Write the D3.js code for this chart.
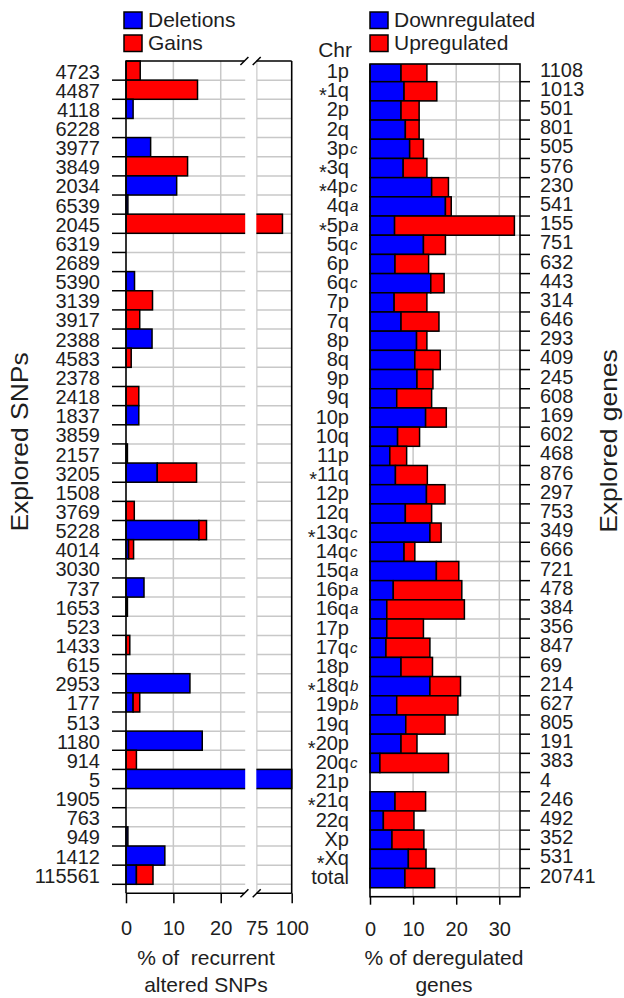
<!DOCTYPE html>
<html lang='en'>
<head>
<meta charset='utf8'>
<title>Explored SNPs and genes</title>
<script src="https://cdn.jsdelivr.net/npm/d3@7/dist/d3.min.js"></script>
<style>
    body { margin: 0; background: #fff; }
    text { font-family: Arial, "Liberation Sans", sans-serif; fill: #1e1e1e; }
</style>
</head>
<body>
<svg id='chart' width='624' height='998'></svg>
<script>
// left panel: SNPs explored per arm, % recurrent altered
var snpCounts = ['4723','4487','4118','6228','3977','3849','2034','6539','2045','6319','2689','5390','3139','3917','2388','4583','2378','2418','1837','3859','2157','3205','1508','3769','5228','4014','3030','737','1653','523','1433','615','2953','177','513','1180','914','5','1905','763','949','1412','115561'];
var deletions = [0,0,1.5,0,5.2,0,10.7,0.4,0,0,0,1.8,0,0,5.5,0,0,0,2.7,0,0.3,6.6,0,0,15.4,0.55,0,3.8,0.3,0,0,0,13.5,1.5,0,16.1,0,100,0,0,0.4,8.2,2.2];
var gains = [3.0,15.1,0,0,0,13.0,0,0,93.4,0,0,0,5.6,2.9,0,1.1,0,2.7,0,0,0,8.3,0,1.75,1.6,1.05,0,0,0,0,0.8,0,0,1.4,0,0,2.2,0,0,0,0,0,3.5];

// right panel: chromosome arms, % deregulated genes
var chrArms = ['1p','1q','2p','2q','3p','3q','4p','4q','5p','5q','6p','6q','7p','7q','8p','8q','9p','9q','10p','10q','11p','11q','12p','12q','13q','14q','15q','16p','16q','17p','17q','18p','18q','19p','19q','20p','20q','21p','21q','22q','Xp','Xq','total'];
var chrStar = ['1q','3q','4p','5p','11q','13q','18q','20p','21q','Xq'];
var chrNote = {'3p':'c','4p':'c','4q':'a','5p':'a','5q':'c','6q':'c','13q':'c','14q':'c','15q':'a','16p':'a','16q':'a','17q':'c','18q':'b','19p':'b','20q':'c'};
var geneCounts = ['1108','1013','501','801','505','576','230','541','155','751','632','443','314','646','293','409','245','608','169','602','468','876','297','753','349','666','721','478','384','356','847','69','214','627','805','191','383','4','246','492','352','531','20741'];
var downPct = [7.2,7.9,7.2,8.2,9.2,7.7,14.3,17.5,5.7,12.4,5.8,14.1,5.6,7.2,10.8,10.4,10.9,6.2,12.9,6.4,4.6,5.9,13.1,8.2,13.9,7.9,15.4,5.4,3.9,3.9,3.7,7.2,13.9,6.2,8.3,7.2,2.3,0,5.8,3.1,5.1,8.9,8.1];
var upPct = [6.0,7.6,4.2,3.2,3.2,5.5,3.9,1.35,27.8,5.1,7.8,3.1,7.6,8.8,2.4,5.9,3.7,8.1,4.8,5.1,3.9,7.4,4.3,6.1,2.6,2.5,5.2,15.9,18.0,8.5,10.2,7.3,7.1,14.2,9.1,3.7,15.9,0,7.1,7.1,7.4,4.1,6.9];

var BLUE = '#0000ff', RED = '#ff0000', GRID = '#c8c8c8';
var n = snpCounts.length;
var svg = d3.select('#chart');

var rowsL = d3.scaleBand().domain(d3.range(n)).range([61, 884.3]);
var rowsR = d3.scaleBand().domain(d3.range(n)).range([62.5, 887.7]);
var xL = d3.scaleLinear().domain([0, 25, 75, 100]).range([126, 244.4, 256.7, 291.7]);
var xR = d3.scaleLinear().domain([0, 34.8]).range([370, 520]);

var L = {top: 61, bottom: 893.3, left: xL(0), right: xL(100)};
var R = {top: 64, bottom: 896.7, left: xR(0), right: xR(34.8)};

// ---------- left panel ----------
var gl = svg.append('g');

gl.selectAll('.hgrid').data(d3.range(1, n + 1)).enter().append('line')
    .attr('x1', L.left).attr('x2', L.right)
    .attr('y1', d => rowsL(0) + d * rowsL.step()).attr('y2', d => rowsL(0) + d * rowsL.step())
    .attr('stroke', GRID).attr('stroke-width', 1.5);
gl.selectAll('.vgrid').data([10, 20, 75]).enter().append('line')
    .attr('x1', d => xL(d)).attr('x2', d => xL(d))
    .attr('y1', L.top).attr('y2', L.bottom)
    .attr('stroke', GRID).attr('stroke-width', 1.5);

var leftBars = [];
snpCounts.forEach(function(s, i) {
    if (deletions[i] > 0) leftBars.push({row: i, x0: 0, x1: deletions[i], c: BLUE});
    if (gains[i] > 0) leftBars.push({row: i, x0: deletions[i], x1: deletions[i] + gains[i], c: RED});
});
gl.selectAll('.bar').data(leftBars).enter().append('rect')
    .attr('x', d => xL(d.x0))
    .attr('width', d => xL(d.x1) - xL(d.x0))
    .attr('y', d => rowsL(d.row))
    .attr('height', rowsL.bandwidth())
    .attr('fill', d => d.c)
    .attr('stroke', '#000').attr('stroke-width', 1.5);

// axis break gap
gl.append('rect')
    .attr('x', xL(25) + 0.8).attr('width', xL(75) - xL(25) - 1.2)
    .attr('y', L.top - 2).attr('height', L.bottom - L.top + 4)
    .attr('fill', '#fff');

var boxL = [
    [L.left, L.top, xL(25), L.top], [xL(75), L.top, L.right, L.top],
    [L.left, L.bottom, xL(25), L.bottom], [xL(75), L.bottom, L.right, L.bottom],
    [L.left, L.top, L.left, L.bottom], [L.right, L.top, L.right, L.bottom]
];
gl.selectAll('.box').data(boxL).enter().append('line')
    .attr('x1', d => d[0]).attr('y1', d => d[1]).attr('x2', d => d[2]).attr('y2', d => d[3])
    .attr('stroke', '#000').attr('stroke-width', 1.6);

// break slashes
var slashes = [];
[L.top, L.bottom].forEach(function(y) {
    [xL(25), xL(75)].forEach(function(x) { slashes.push([x, y]); });
});
gl.selectAll('.slash').data(slashes).enter().append('line')
    .attr('x1', d => d[0] - 4).attr('y1', d => d[1] + 4)
    .attr('x2', d => d[0] + 4).attr('y2', d => d[1] - 4)
    .attr('stroke', '#000').attr('stroke-width', 1.5);

// row ticks
gl.selectAll('.ytick').data(d3.range(1, n + 1)).enter().append('line')
    .attr('x1', L.left - 14).attr('x2', L.left)
    .attr('y1', d => rowsL(0) + d * rowsL.step()).attr('y2', d => rowsL(0) + d * rowsL.step())
    .attr('stroke', '#000').attr('stroke-width', 1.5);

gl.selectAll('.ylab').data(snpCounts).enter().append('text')
    .attr('x', 100)
    .attr('y', (d, i) => rowsL(i) + rowsL.bandwidth() / 2 + 8)
    .attr('text-anchor', 'end')
    .style('font-size', '20px')
    .text(d => d);

var axL = svg.append('g')
    .attr('transform', 'translate(0,' + L.bottom + ')')
    .call(d3.axisBottom(xL).tickValues([0, 10, 20, 75, 100]).tickSize(10).tickPadding(17.5));
axL.select('.domain').remove();
axL.selectAll('.tick line').attr('stroke', '#000').attr('stroke-width', 1.5)
    .filter(d => d == 75).remove();
axL.selectAll('.tick text').style('font-size', '20px').attr('fill', '#1e1e1e').style('font-family', 'Arial, "Liberation Sans", sans-serif');

svg.append('text').attr('x', 206).attr('y', 965).attr('text-anchor', 'middle')
    .style('font-size', '21px').style('white-space', 'pre').text('% of  recurrent');
svg.append('text').attr('x', 206).attr('y', 992).attr('text-anchor', 'middle')
    .style('font-size', '21px').text('altered SNPs');

svg.append('text')
    .attr('transform', 'translate(28,442) rotate(-90) scale(1.15,1)')
    .attr('text-anchor', 'middle')
    .style('font-size', '23px')
    .text('Explored SNPs');

// ---------- right panel ----------
var gr = svg.append('g');
svg.append('clipPath').attr('id', 'clipR').append('rect')
    .attr('x', R.left - 2).attr('y', R.top).attr('width', R.right - R.left + 4).attr('height', R.bottom - R.top);

gr.selectAll('.hgrid').data(d3.range(1, n + 1)).enter().append('line')
    .attr('x1', R.left).attr('x2', R.right)
    .attr('y1', d => rowsR(0) + d * rowsR.step()).attr('y2', d => rowsR(0) + d * rowsR.step())
    .attr('stroke', GRID).attr('stroke-width', 1.5);
gr.selectAll('.vgrid').data([10, 20, 30]).enter().append('line')
    .attr('x1', d => xR(d)).attr('x2', d => xR(d))
    .attr('y1', R.top).attr('y2', R.bottom)
    .attr('stroke', GRID).attr('stroke-width', 1.5);

var rightBars = [];
chrArms.forEach(function(c, i) {
    if (downPct[i] > 0) rightBars.push({row: i, x0: 0, x1: downPct[i], c: BLUE});
    if (upPct[i] > 0) rightBars.push({row: i, x0: downPct[i], x1: downPct[i] + upPct[i], c: RED});
});
gr.append('g').attr('clip-path', 'url(#clipR)')
    .selectAll('rect').data(rightBars).enter().append('rect')
    .attr('x', d => xR(d.x0))
    .attr('width', d => xR(d.x1) - xR(d.x0))
    .attr('y', d => rowsR(d.row))
    .attr('height', rowsR.bandwidth())
    .attr('fill', d => d.c)
    .attr('stroke', '#000').attr('stroke-width', 1.5);

gr.append('rect')
    .attr('x', R.left).attr('y', R.top)
    .attr('width', R.right - R.left).attr('height', R.bottom - R.top)
    .attr('fill', 'none').attr('stroke', '#000').attr('stroke-width', 1.6);

gr.selectAll('.ytick').data(d3.range(1, n + 1)).enter().append('line')
    .attr('x1', R.right).attr('x2', R.right + 10)
    .attr('y1', d => rowsR(0) + d * rowsR.step()).attr('y2', d => rowsR(0) + d * rowsR.step())
    .attr('stroke', '#000').attr('stroke-width', 1.5);

// chromosome arm labels
var chrLab = gr.selectAll('.chr').data(chrArms).enter().append('text')
    .attr('x', 349)
    .attr('y', (d, i) => rowsR(i) + rowsR.bandwidth() / 2 + 6)
    .attr('text-anchor', 'end')
    .style('font-size', '20px');
chrLab.filter(d => chrStar.indexOf(d) >= 0).append('tspan')
    .attr('dy', 5).style('font-size', '20px').text('*');
chrLab.append('tspan')
    .attr('dy', d => chrStar.indexOf(d) >= 0 ? -5 : 0)
    .text(d => d);

gr.selectAll('.note').data(chrArms.filter(d => chrNote[d])).enter().append('text')
    .attr('x', 350)
    .attr('y', d => rowsR(chrArms.indexOf(d)) + rowsR.bandwidth() / 2 + 5)
    .style('font-size', '15px').style('font-style', 'italic')
    .text(d => chrNote[d]);

gr.selectAll('.cnt').data(geneCounts).enter().append('text')
    .attr('x', 540)
    .attr('y', (d, i) => rowsR(i) + rowsR.bandwidth() / 2 + 4.5)
    .style('font-size', '20px')
    .text(d => d);

svg.append('text').attr('x', 352).attr('y', 57).attr('text-anchor', 'end')
    .style('font-size', '21px').text('Chr');

var axR = svg.append('g')
    .attr('transform', 'translate(0,' + R.bottom + ')')
    .call(d3.axisBottom(xR).tickValues([0, 10, 20, 30]).tickSize(8).tickPadding(17));
axR.select('.domain').remove();
axR.selectAll('.tick line').attr('stroke', '#000').attr('stroke-width', 1.5);
axR.selectAll('.tick text').style('font-size', '20px').attr('fill', '#1e1e1e').style('font-family', 'Arial, "Liberation Sans", sans-serif');

svg.append('text').attr('x', 444).attr('y', 965).attr('text-anchor', 'middle')
    .style('font-size', '21px').text('% of deregulated');
svg.append('text').attr('x', 444).attr('y', 992).attr('text-anchor', 'middle')
    .style('font-size', '21px').text('genes');

svg.append('text')
    .attr('transform', 'translate(617,441) rotate(-90) scale(1.15,1)')
    .attr('text-anchor', 'middle')
    .style('font-size', '23px')
    .text('Explored genes');

// ---------- legends ----------
var legends = [
    {x: 124, y: 12, c: BLUE, t: 'Deletions'},
    {x: 124, y: 35, c: RED, t: 'Gains'},
    {x: 370, y: 12, c: BLUE, t: 'Downregulated'},
    {x: 370, y: 35, c: RED, t: 'Upregulated'}
];
var lg = svg.selectAll('.legend').data(legends).enter().append('g');
lg.append('rect')
    .attr('x', d => d.x).attr('y', d => d.y)
    .attr('width', 18).attr('height', 16.5)
    .attr('fill', d => d.c).attr('stroke', '#000').attr('stroke-width', 1.5);
lg.append('text')
    .attr('x', d => d.x + 24).attr('y', d => d.y + 14.5)
    .style('font-size', '21px')
    .text(d => d.t);
</script>
</body>
</html>
